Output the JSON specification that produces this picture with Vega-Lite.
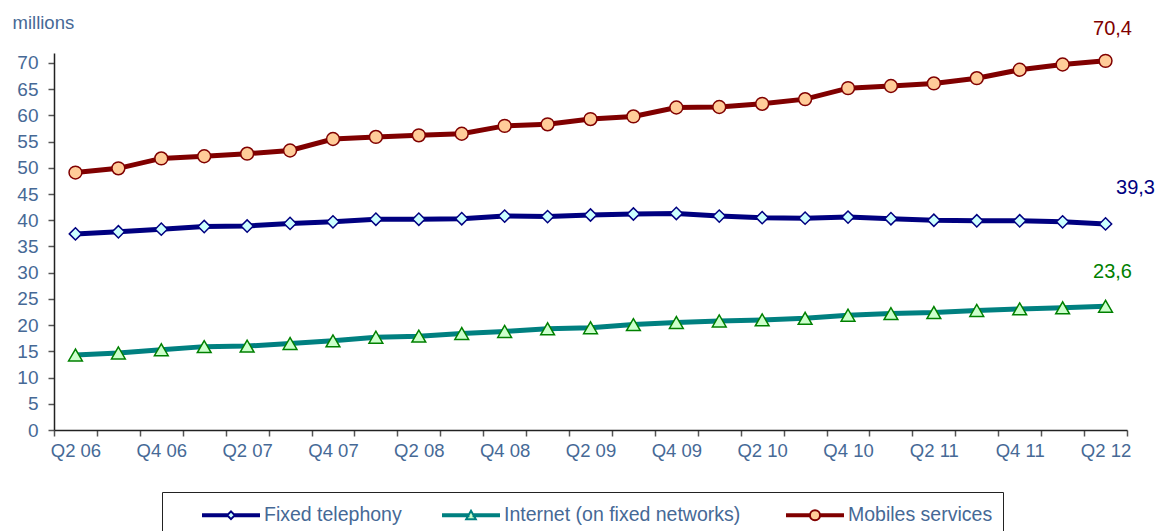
{
  "$schema": "https://vega.github.io/schema/vega-lite/v6.json",
  "width": 1073,
  "height": 377,
  "autosize": {"type": "none"},
  "padding": {"left": 54, "top": 53, "right": 34, "bottom": 101},
  "background": "white",
  "config": {"view": {"stroke": null}, "font": "Liberation Sans"},
  "data": {"values": [
    {"q":"Q2 06","series":"Fixed telephony","v":37.4},
    {"q":"Q3 06","series":"Fixed telephony","v":37.8},
    {"q":"Q4 06","series":"Fixed telephony","v":38.3},
    {"q":"Q1 07","series":"Fixed telephony","v":38.8},
    {"q":"Q2 07","series":"Fixed telephony","v":38.9},
    {"q":"Q3 07","series":"Fixed telephony","v":39.4},
    {"q":"Q4 07","series":"Fixed telephony","v":39.7},
    {"q":"Q1 08","series":"Fixed telephony","v":40.2},
    {"q":"Q2 08","series":"Fixed telephony","v":40.2},
    {"q":"Q3 08","series":"Fixed telephony","v":40.3},
    {"q":"Q4 08","series":"Fixed telephony","v":40.8},
    {"q":"Q1 09","series":"Fixed telephony","v":40.7},
    {"q":"Q2 09","series":"Fixed telephony","v":41.0},
    {"q":"Q3 09","series":"Fixed telephony","v":41.2},
    {"q":"Q4 09","series":"Fixed telephony","v":41.3},
    {"q":"Q1 10","series":"Fixed telephony","v":40.8},
    {"q":"Q2 10","series":"Fixed telephony","v":40.5},
    {"q":"Q3 10","series":"Fixed telephony","v":40.4},
    {"q":"Q4 10","series":"Fixed telephony","v":40.6},
    {"q":"Q1 11","series":"Fixed telephony","v":40.3},
    {"q":"Q2 11","series":"Fixed telephony","v":40.0},
    {"q":"Q3 11","series":"Fixed telephony","v":39.9},
    {"q":"Q4 11","series":"Fixed telephony","v":39.9},
    {"q":"Q1 12","series":"Fixed telephony","v":39.7},
    {"q":"Q2 12","series":"Fixed telephony","v":39.3},
    {"q":"Q2 06","series":"Internet (on  fixed networks)","v":14.3},
    {"q":"Q3 06","series":"Internet (on  fixed networks)","v":14.7},
    {"q":"Q4 06","series":"Internet (on  fixed networks)","v":15.3},
    {"q":"Q1 07","series":"Internet (on  fixed networks)","v":15.9},
    {"q":"Q2 07","series":"Internet (on  fixed networks)","v":16.0},
    {"q":"Q3 07","series":"Internet (on  fixed networks)","v":16.5},
    {"q":"Q4 07","series":"Internet (on  fixed networks)","v":17.0},
    {"q":"Q1 08","series":"Internet (on  fixed networks)","v":17.7},
    {"q":"Q2 08","series":"Internet (on  fixed networks)","v":17.9},
    {"q":"Q3 08","series":"Internet (on  fixed networks)","v":18.4},
    {"q":"Q4 08","series":"Internet (on  fixed networks)","v":18.8},
    {"q":"Q1 09","series":"Internet (on  fixed networks)","v":19.3},
    {"q":"Q2 09","series":"Internet (on  fixed networks)","v":19.5},
    {"q":"Q3 09","series":"Internet (on  fixed networks)","v":20.1},
    {"q":"Q4 09","series":"Internet (on  fixed networks)","v":20.5},
    {"q":"Q1 10","series":"Internet (on  fixed networks)","v":20.8},
    {"q":"Q2 10","series":"Internet (on  fixed networks)","v":21.0},
    {"q":"Q3 10","series":"Internet (on  fixed networks)","v":21.3},
    {"q":"Q4 10","series":"Internet (on  fixed networks)","v":21.9},
    {"q":"Q1 11","series":"Internet (on  fixed networks)","v":22.2},
    {"q":"Q2 11","series":"Internet (on  fixed networks)","v":22.4},
    {"q":"Q3 11","series":"Internet (on  fixed networks)","v":22.8},
    {"q":"Q4 11","series":"Internet (on  fixed networks)","v":23.1},
    {"q":"Q1 12","series":"Internet (on  fixed networks)","v":23.3},
    {"q":"Q2 12","series":"Internet (on  fixed networks)","v":23.6},
    {"q":"Q2 06","series":"Mobiles services","v":49.1},
    {"q":"Q3 06","series":"Mobiles services","v":49.9},
    {"q":"Q4 06","series":"Mobiles services","v":51.8},
    {"q":"Q1 07","series":"Mobiles services","v":52.2},
    {"q":"Q2 07","series":"Mobiles services","v":52.7},
    {"q":"Q3 07","series":"Mobiles services","v":53.3},
    {"q":"Q4 07","series":"Mobiles services","v":55.5},
    {"q":"Q1 08","series":"Mobiles services","v":55.9},
    {"q":"Q2 08","series":"Mobiles services","v":56.2},
    {"q":"Q3 08","series":"Mobiles services","v":56.5},
    {"q":"Q4 08","series":"Mobiles services","v":58.0},
    {"q":"Q1 09","series":"Mobiles services","v":58.3},
    {"q":"Q2 09","series":"Mobiles services","v":59.3},
    {"q":"Q3 09","series":"Mobiles services","v":59.8},
    {"q":"Q4 09","series":"Mobiles services","v":61.5},
    {"q":"Q1 10","series":"Mobiles services","v":61.6},
    {"q":"Q2 10","series":"Mobiles services","v":62.2},
    {"q":"Q3 10","series":"Mobiles services","v":63.1},
    {"q":"Q4 10","series":"Mobiles services","v":65.2},
    {"q":"Q1 11","series":"Mobiles services","v":65.6},
    {"q":"Q2 11","series":"Mobiles services","v":66.1},
    {"q":"Q3 11","series":"Mobiles services","v":67.1},
    {"q":"Q4 11","series":"Mobiles services","v":68.7},
    {"q":"Q1 12","series":"Mobiles services","v":69.7},
    {"q":"Q2 12","series":"Mobiles services","v":70.4}
  ]},
  "encoding": {
    "x": {
      "field": "q", "type": "ordinal", "sort": null,
      "scale": {"type": "band", "paddingInner": 0, "paddingOuter": 0},
      "bandPosition": 0.5,
      "axis": {
        "title": null, "tickBand": "extent", "labelAngle": 0,
        "labelExpr": "(slice(datum.label,0,2)=='Q2'||slice(datum.label,0,2)=='Q4') ? datum.label : ''",
        "labelOverlap": false, "labelFontSize": 18.5, "labelColor": "#466996",
        "labelPadding": 5, "tickSize": 6, "tickColor": "#555555", "tickWidth": 1.5,
        "domainColor": "#222222", "domainWidth": 1.5, "grid": false
      }
    },
    "y": {
      "field": "v", "type": "quantitative",
      "scale": {"domain": [0, 71.9], "nice": false, "zero": true},
      "axis": {
        "title": "millions", "titleAngle": 0, "titleAlign": "left", "titleX": -42, "titleY": -25,
        "titleBaseline": "alphabetic", "titleFontSize": 18.5, "titleFontWeight": "normal", "titleColor": "#466996",
        "values": [0,5,10,15,20,25,30,35,40,45,50,55,60,65,70],
        "labelFontSize": 19, "labelColor": "#466996", "labelPadding": 10,
        "tickSize": 6, "tickColor": "#555555", "tickWidth": 1.5,
        "domainColor": "#222222", "domainWidth": 1.5, "grid": false
      }
    }
  },
  "layer": [
    {
      "mark": {"type": "line", "strokeWidth": 5},
      "encoding": {
        "color": {
          "field": "series", "type": "nominal",
          "scale": {"domain": ["Fixed telephony", "Internet (on  fixed networks)", "Mobiles services"], "range": ["#000080", "#008080", "#800000"]},
          "legend": {
            "title": null, "orient": "none", "legendX": 108, "legendY": 439, "direction": "horizontal",
            "strokeColor": "#222222", "fillColor": "white", "padding": 10,
            "symbolSize": 576, "symbolStrokeWidth": 2, "symbolOffset": 46, "symbolOpacity": 1,
            "labelFontSize": 19.5, "labelColor": "#466996", "labelOffset": 20, "labelLimit": 500, "columnPadding": 10,
            "encode": {"symbols": {"update": {
              "shape": {"signal": "datum.value==='Fixed telephony' ? 'M-2.333,-0.083H-0.32V0.083H-2.333ZM0.32,-0.083H2.333V0.083H0.32ZM0,-0.32L0.32,0L0,0.32L-0.32,0Z' : datum.value==='Mobiles services' ? 'M-2.333,-0.083H-0.42V0.083H-2.333ZM0.42,-0.083H2.333V0.083H0.42ZM-0.42,0A0.42,0.42 0 1,0 0.42,0A0.42,0.42 0 1,0 -0.42,0Z' : 'M-2.333,-0.083H-0.21V0.083H-2.333ZM0.21,-0.083H2.333V0.083H0.21ZM0,-0.38L0.4,0.33L-0.4,0.33Z'"},
              "fill": {"signal": "datum.value==='Fixed telephony' ? '#CCFFFF' : datum.value==='Mobiles services' ? '#FFCC99' : '#CCFFCC'"},
              "stroke": {"signal": "datum.value==='Fixed telephony' ? '#000080' : datum.value==='Mobiles services' ? '#800000' : '#008080'"},
              "strokeWidth": {"value": 2},
              "opacity": {"value": 1}
            }}}
          }
        }
      }
    },
    {
      "transform": [{"filter": "datum.series=='Fixed telephony'"}],
      "mark": {"type": "point", "shape": "diamond", "filled": true, "fill": "#CCFFFF", "stroke": "#000080", "strokeWidth": 1.5, "size": 150, "opacity": 1}
    },
    {
      "transform": [{"filter": "datum.series=='Internet (on  fixed networks)'"}],
      "mark": {"type": "point", "shape": "triangle-up", "filled": true, "fill": "#CCFFCC", "stroke": "#008000", "strokeWidth": 1.5, "size": 190, "opacity": 1}
    },
    {
      "transform": [{"filter": "datum.series=='Mobiles services'"}],
      "mark": {"type": "point", "shape": "circle", "filled": true, "fill": "#FFCC99", "stroke": "#800000", "strokeWidth": 1.5, "size": 165, "opacity": 1}
    },
    {
      "transform": [
        {"filter": "datum.q=='Q2 12' && datum.series=='Mobiles services'"},
        {"calculate": "replace(format(datum.v,'.1f'),'.',',')", "as": "lbl"}
      ],
      "mark": {"type": "text", "dx": 7, "dy": -26, "fontSize": 20, "color": "#800000", "align": "center", "baseline": "alphabetic"},
      "encoding": {"text": {"field": "lbl"}}
    },
    {
      "transform": [
        {"filter": "datum.q=='Q2 12' && datum.series=='Fixed telephony'"},
        {"calculate": "replace(format(datum.v,'.1f'),'.',',')", "as": "lbl"}
      ],
      "mark": {"type": "text", "dx": 30, "dy": -30, "fontSize": 20, "color": "#000080", "align": "center", "baseline": "alphabetic"},
      "encoding": {"text": {"field": "lbl"}}
    },
    {
      "transform": [
        {"filter": "datum.q=='Q2 12' && datum.series=='Internet (on  fixed networks)'"},
        {"calculate": "replace(format(datum.v,'.1f'),'.',',')", "as": "lbl"}
      ],
      "mark": {"type": "text", "dx": 7, "dy": -28, "fontSize": 20, "color": "#008000", "align": "center", "baseline": "alphabetic"},
      "encoding": {"text": {"field": "lbl"}}
    }
  ]
}
